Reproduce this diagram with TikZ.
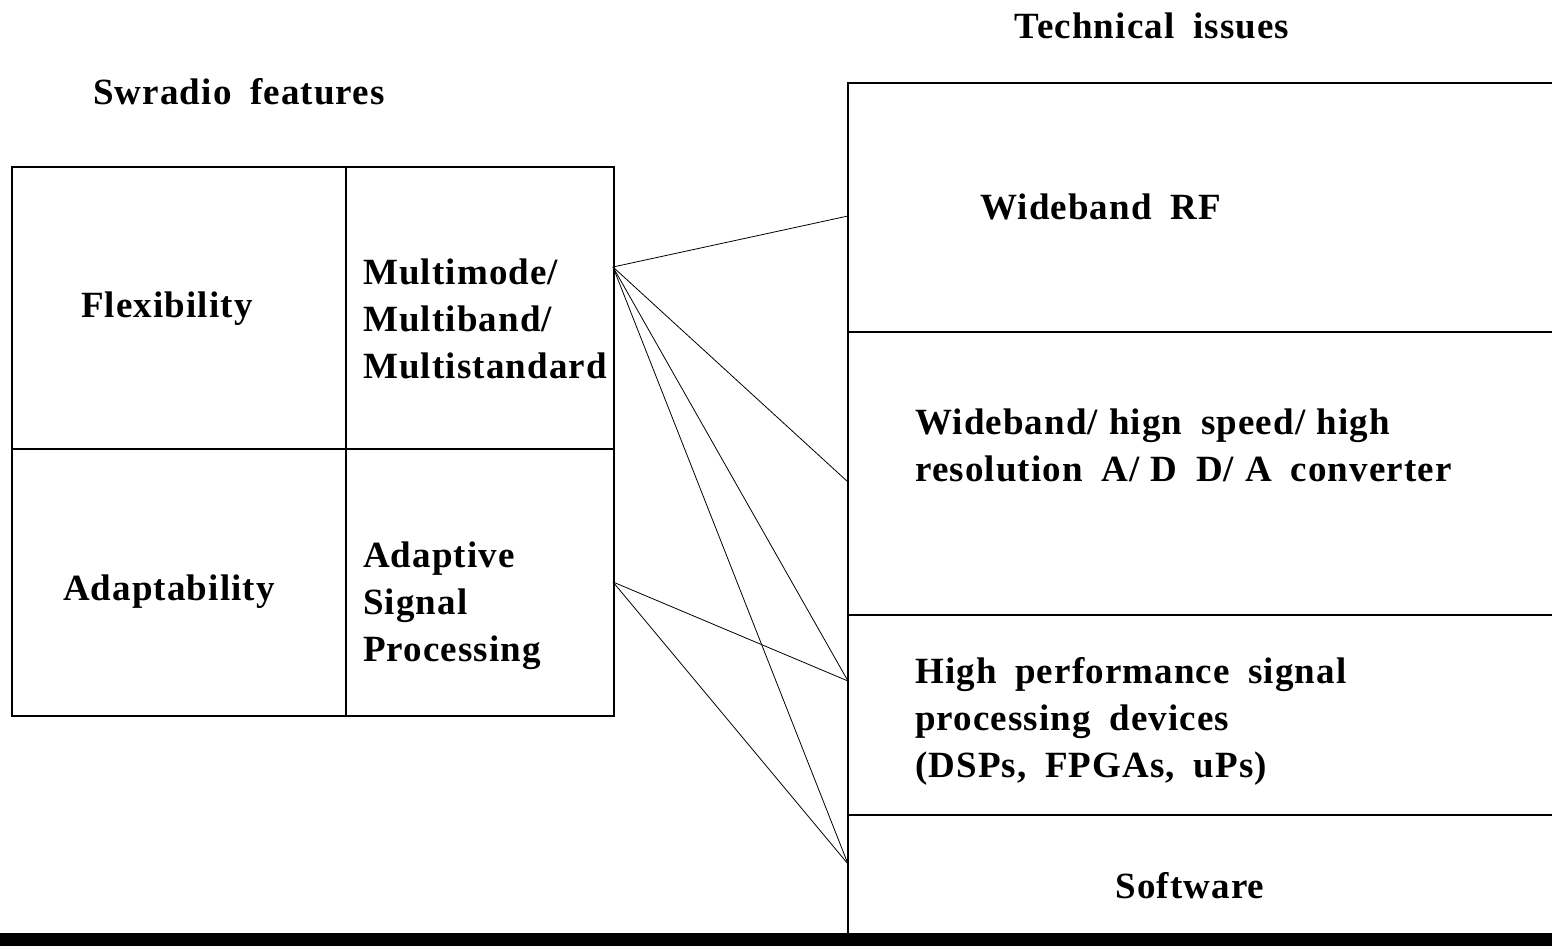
\documentclass[tikz,border=0pt]{standalone}
\usepackage{fontspec}
\setmainfont{Liberation Serif}
\newfontfamily\labelface[LetterSpace=3, WordSpace=1.8]{Liberation Serif}
\newcommand\lblfont{\labelface\bfseries\fontsize{37}{47}\selectfont}
\newcommand\slashgap{\hspace{0.3em}}
\tikzset{
  frame/.style={draw, line width=1.1pt, inner sep=0pt, outer sep=0pt},
  lbl/.style={font=\lblfont, anchor=west, align=left, inner sep=0pt},
  ctr/.style={font=\lblfont, anchor=center, inner sep=0pt},
  link/.style={line width=0.8pt},
}
\begin{document}
\begin{tikzpicture}[x=1pt, y=-1pt]
  \useasboundingbox (0,0) rectangle (1552,946);
  \fill[white] (0,0) rectangle (1552,946);

  % headings
  \node[ctr] (hfeat) at (239,92) {Swradio features};
  \node[ctr] (htech) at (1152,26) {Technical issues};

  % feature table (2 x 2)
  \node[frame, minimum width=334pt, minimum height=282pt] (flex) at (179,308) {};
  \node[frame, minimum width=268pt, minimum height=282pt] (multi) at (480,308) {};
  \node[frame, minimum width=334pt, minimum height=267pt] (adapt) at (179,582.5) {};
  \node[frame, minimum width=268pt, minimum height=267pt] (asp) at (480,582.5) {};

  \node[ctr] (tflex) at (167,309) {Flexibility};
  \node[ctr] (tadapt) at (169,592) {Adaptability};
  \node[lbl] (tmulti) at (363,319) {Multimode/\\Multiband/\\Multistandard};
  \node[lbl] (tasp) at (363,606) {Adaptive\\Signal\\Processing};

  % technical issue stack (right edge runs off the page)
  \node[frame, anchor=north west, minimum width=720pt, minimum height=249pt] (rf) at (848,83) {};
  \node[frame, anchor=north west, minimum width=720pt, minimum height=283pt] (adc) at (848,332) {};
  \node[frame, anchor=north west, minimum width=720pt, minimum height=200pt] (dsp) at (848,615) {};
  \node[frame, anchor=north west, minimum width=720pt, minimum height=130pt] (sw) at (848,815) {};

  \node[lbl] (trf) at (980,207) {Wideband RF};
  \node[lbl] (tadc) at (915,445) {Wideband/\slashgap hign speed/\slashgap high\\resolution A/\slashgap D D/\slashgap A converter};
  \node[lbl] (tdsp) at (915,721) {High performance signal\\processing devices\\(DSPs, FPGAs, uPs)};
  \node[ctr] (tsw) at (1190,886) {Software};

  % connector end points on the box edges
  \coordinate (pm) at (613,267);
  \coordinate (pa) at (613,582);
  \coordinate (qrf) at (848,216);
  \coordinate (qadc) at (848,482);
  \coordinate (qdsp) at (848,681);
  \coordinate (qsw) at (848,864);

  \draw[link] (pm) -- (qrf);
  \draw[link] (pm) -- (qadc);
  \draw[link] (pm) -- (qdsp);
  \draw[link] (pm) -- (qsw);
  \draw[link] (pa) -- (qdsp);
  \draw[link] (pa) -- (qsw);

  % black band along the bottom
  \fill[black] (0,933) rectangle (1552,946);
\end{tikzpicture}
\end{document}
